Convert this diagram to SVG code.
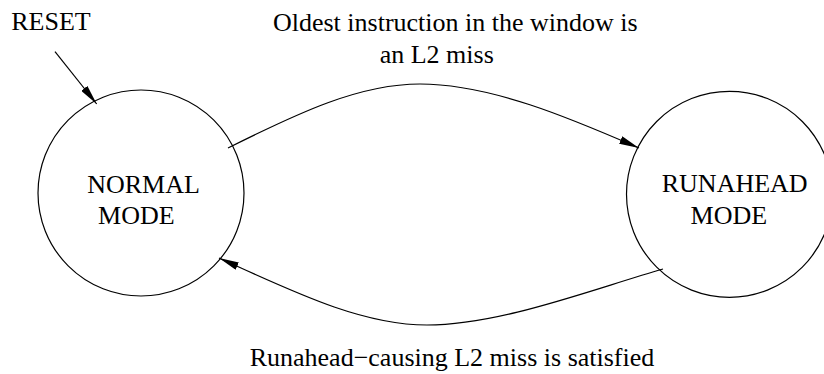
<svg xmlns="http://www.w3.org/2000/svg" width="824" height="374" viewBox="0 0 824 374">
<defs>
<style>
text{font-family:"Liberation Serif","Times New Roman",Times,serif;font-size:26px;fill:#000}
.c{fill:#fff;stroke:#000;stroke-width:1.2}
.e{fill:none;stroke:#000;stroke-width:1.2}
</style>
<marker id="ah" viewBox="0 0 20 8" refX="20" refY="4" markerWidth="20" markerHeight="8" markerUnits="userSpaceOnUse" orient="auto">
<path d="M0,0 L20,4 L0,8 Z" fill="#000"/>
</marker>
</defs>
<rect width="824" height="374" fill="#fff"/>
<g id="normal">
<circle class="c" cx="141" cy="193" r="103"/>
<text x="143.5" y="192.7" text-anchor="middle">NORMAL</text>
<text x="136.3" y="224" text-anchor="middle">MODE</text>
</g>
<g id="runahead">
<circle class="c" cx="729.5" cy="194.3" r="103"/>
<text x="734.7" y="191.7" text-anchor="middle">RUNAHEAD</text>
<text x="728.8" y="224" text-anchor="middle">MODE</text>
</g>
<g id="reset">
<text x="51" y="30" text-anchor="middle">RESET</text>
</g>
<g id="connectors">
<path class="e" d="M55,51.7 L96.7,104" marker-end="url(#ah)"/>
<path class="e" d="M228,148 C300,112 360,84 420,84 C490,84 570,118 639,148" marker-end="url(#ah)"/>
<path class="e" d="M663,269 C590,290 500,325 427,325 C360,325 290,290 219,258" marker-end="url(#ah)"/>
</g>
<g id="labels">
<text x="455.3" y="30.7" text-anchor="middle">Oldest instruction in the window is</text>
<text x="436.7" y="62.7" text-anchor="middle">an L2 miss</text>
<text x="452" y="366" text-anchor="middle">Runahead−causing L2 miss is satisfied</text>
</g>
</svg>
